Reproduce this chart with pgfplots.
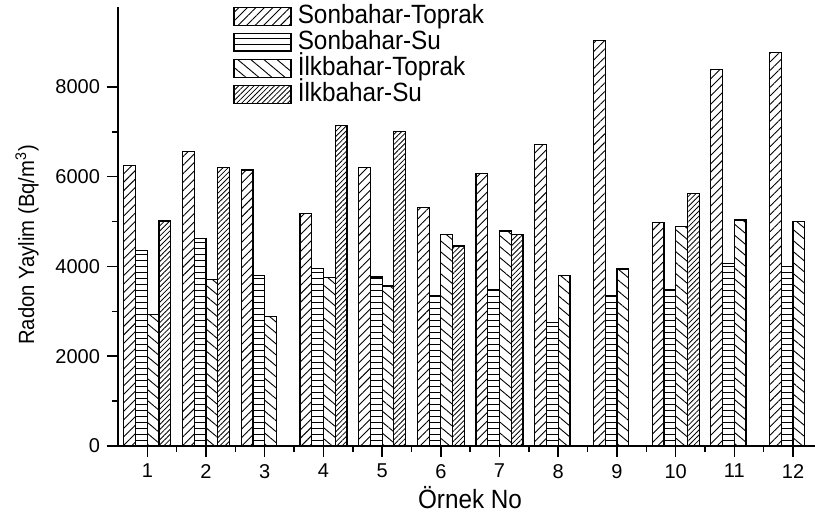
\documentclass[border=0pt]{standalone}
\usepackage{fontspec}
\setmainfont{Liberation Sans}
\newfontfamily\cond{Liberation Sans}[FakeStretch=0.92]
\usepackage{pgfplots}
\pgfplotsset{compat=1.18}
\usetikzlibrary{patterns.meta}
\begin{document}
\begin{tikzpicture}
\begin{axis}[name=ax,
  scale only axis, width=348.5pt, height=219.5pt,
  xmin=0.5, xmax=12.374, ymin=0, ymax=9780,
  axis x line=bottom, axis y line=left,
  axis line style={-, line width=0.75pt},
  tick align=outside,
  major tick length=5.5pt, minor tick length=2.8pt,
  every tick/.style={black, line width=0.75pt},
  xtick={1,2,3,4,5,6,7,8,9,10,11,12},
  ytick={0,2000,4000,6000,8000},
  minor x tick num=1, minor y tick num=1,
  /pgf/number format/assume math mode=true,
  scaled y ticks=false,
  yticklabel style={/pgf/number format/1000 sep={}},
  tick label style={font=\fontsize{10}{12}\selectfont},
  ybar=0pt, bar width=0.2,
  xlabel={Örnek No}, ylabel={Radon Yaylim (Bq/m\textsuperscript{3})},
  xlabel style={font=\cond\fontsize{13.2}{15}\selectfont, at={(axis description cs:0.505,-0.118)}, anchor=center},
  ylabel style={font=\cond\fontsize{11}{13}\selectfont, at={(axis description cs:-0.1306,0.458)}, anchor=center, rotate=0},
  legend style={draw=none, fill=none, at={(axis description cs:0.165,1.008)}, anchor=north west,
    font=\cond\fontsize{13.2}{15}\selectfont, inner sep=0pt, row sep=0pt,
    nodes={inner sep=0.6pt, text height=9.3pt, text depth=2.5pt},
    /tikz/every odd column/.append style={column sep=2.5pt}},
  legend cell align=left,
  legend image code/.code={\draw[#1, line width=0.6pt] (0pt,-4.5pt) rectangle (28.5pt,4.5pt);},
  every axis plot/.append style={draw=black, line width=0.6pt},
]
\addplot[pattern={Lines[angle=45,distance=3pt,line width=0.45pt]}] coordinates {
 (1,6258) (2,6563) (3,6147) (4,5181) (5,6206) (6,5315) (7,6072) (8,6718) (9,9041) (10,4974) (11,8396) (12,8774)};
\addplot[pattern={Lines[angle=0,distance=3pt,line width=0.45pt]}] coordinates {
 (1,4349) (2,4617) (3,3793) (4,3949) (5,3764) (6,3348) (7,3474) (8,2747) (9,3355) (10,3489) (11,4068) (12,3993)};
\addplot[pattern={Lines[angle=-40,distance=4.2pt,line width=0.45pt]}] coordinates {
 (1,2932) (2,3712) (3,2888) (4,3756) (5,3563) (6,4714) (7,4788) (8,3793) (9,3942) (10,4885) (11,5033) (12,4996)};
\addplot[pattern={Lines[angle=45,distance=1.8pt,line width=0.4pt]}] coordinates {
 (1,5011) (2,6199) (4,7149) (5,7015) (6,4454) (7,4714) (10,5619)};
\legend{Sonbahar-Toprak, Sonbahar-Su, İlkbahar-Toprak, İlkbahar-Su}
\end{axis}
\pgfresetboundingbox
\useasboundingbox ([shift={(-59pt,-36pt)}]ax.south west) rectangle ([shift={(0pt,3.5pt)}]ax.north east);
\end{tikzpicture}
\end{document}
